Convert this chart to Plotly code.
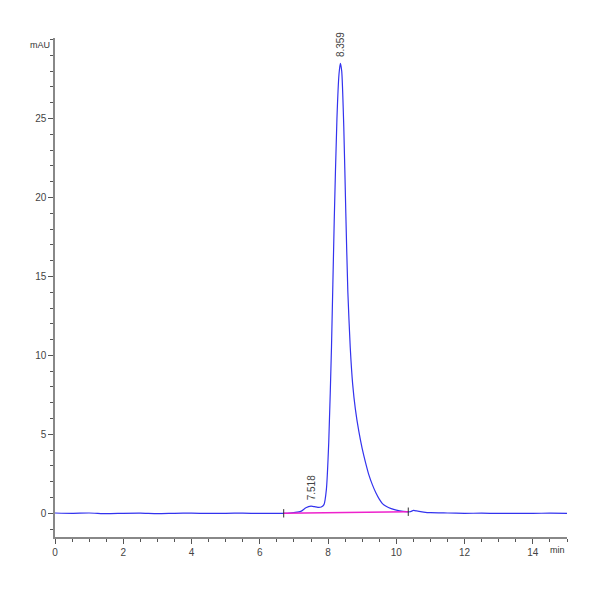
import plotly.graph_objects as go

# chromatogram trace (min, mAU)
time_min = [0, 0.5, 1, 1.5, 2, 2.5, 3, 3.5, 4, 4.5, 5, 5.5, 6, 6.5, 6.8, 7.0, 7.2, 7.35, 7.5,
            7.6, 7.7, 7.8, 7.88, 7.95, 8.02, 8.1, 8.18, 8.26, 8.32, 8.36, 8.4, 8.46, 8.52,
            8.58, 8.65, 8.72, 8.8, 8.9, 9.0, 9.1, 9.2, 9.3, 9.4, 9.5, 9.6, 9.7, 9.85, 10.0,
            10.2, 10.4, 10.5, 10.6, 10.8, 11, 11.5, 12, 12.5, 13, 13.5, 14, 14.5, 15]
signal_mau = [0.02, 0.0, 0.02, -0.02, 0.0, 0.01, -0.02, 0.0, 0.01, -0.01, 0.0, 0.01, -0.01, 0.0, 0.0, 0.05, 0.12, 0.35, 0.45,
              0.42, 0.38, 0.4, 0.55, 1.5, 4.5, 10.5, 18.5, 25.0, 27.8, 28.5, 28.0, 24.5, 19.0,
              14.0, 10.5, 8.2, 6.6, 5.2, 4.1, 3.2, 2.4, 1.8, 1.3, 0.9, 0.6, 0.45, 0.3, 0.2,
              0.12, 0.1, 0.18, 0.15, 0.08, 0.04, 0.02, 0.0, 0.01, -0.01, 0.0, 0.0, 0.01, 0.0]

baseline_x = [6.7, 10.35]
baseline_y = [0.0, 0.1]

peak_times = [7.518, 8.359]
peak_heights = [0.45, 28.5]

fig = go.Figure()
fig.add_trace(go.Scatter(x=time_min, y=signal_mau, mode='lines',
                         line=dict(color='#3333ee', width=1.2, shape='spline', smoothing=0.6)))
fig.add_trace(go.Scatter(x=baseline_x, y=baseline_y, mode='lines+markers',
                         line=dict(color='#ee22cc', width=1.5),
                         marker=dict(symbol='line-ns', size=6, line=dict(color='#333', width=1))))

for t, h in zip(peak_times, peak_heights):
    fig.add_annotation(x=t, y=h, text=f"{t:.3f}", textangle=-90, showarrow=False,
                       yanchor='bottom', yshift=4, font=dict(size=10, color='#444'))

fig.add_annotation(text="mAU", xref="paper", yref="paper", x=0, y=1, xanchor='right',
                   xshift=-3, showarrow=False, font=dict(size=9, color='#333'))
fig.add_annotation(text="min", xref="paper", yref="paper", x=1, y=0, yanchor='top',
                   yshift=-6, showarrow=False, font=dict(size=9, color='#333'))

fig.update_layout(
    width=600, height=600, showlegend=False,
    margin=dict(l=47, r=41, t=30, b=71),
    plot_bgcolor='white', paper_bgcolor='white',
    font=dict(family='Liberation Sans', size=10, color='#444')
)
fig.update_xaxes(range=[0, 15], dtick=2, showgrid=False, zeroline=False,
                 showline=True, linecolor='#888', linewidth=1.5, ticks='outside',
                 ticklen=5, tickcolor='#555',
                 minor=dict(dtick=0.5, ticks='outside', ticklen=3, tickcolor='#555'))
fig.update_yaxes(range=[-1.5, 30.1], tickvals=[0, 5, 10, 15, 20, 25], showgrid=False,
                 zeroline=False, showline=True, linecolor='#888', linewidth=1.5,
                 ticks='outside', ticklen=5, tickcolor='#555',
                 minor=dict(dtick=1, ticks='outside', ticklen=3, tickcolor='#555'))

fig.write_html("out.html")
